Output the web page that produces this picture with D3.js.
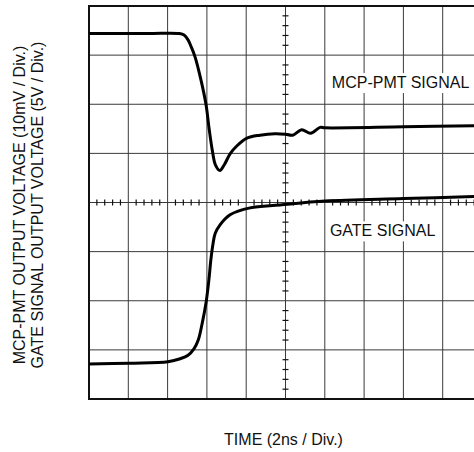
<!DOCTYPE html>
<html>
<head>
<meta charset="utf-8">
<script src="https://cdn.jsdelivr.net/npm/d3@7"></script>
<style>
  body { margin: 0; background: #fff; }
  svg { display: block; }
  text { font-family: "Liberation Sans", Arial, sans-serif; fill: #111; }
</style>
</head>
<body>
<svg id="chart" width="474" height="452"></svg>
<script>
// ---data in divisions (x: 2ns/div, y: volts/div, 0 = screen centre)---
var mcpTime  = [0, 1.5, 2.30, 2.42, 2.52, 2.60, 2.70, 2.85, 2.98, 3.06, 3.14, 3.22, 3.33, 3.45, 3.59, 3.76, 4.02, 4.35, 4.73, 5.0, 5.18, 5.41, 5.64, 5.88, 6.01, 8.0, 10]
var mcpVolt  = [3.44, 3.44, 3.44, 3.41, 3.31, 3.17, 2.96, 2.49, 1.98, 1.48, 1.05, 0.76, 0.65, 0.78, 0.99, 1.15, 1.31, 1.37, 1.40, 1.39, 1.37, 1.48, 1.41, 1.53, 1.52, 1.54, 1.565]
var gateTime = [0, 1.04, 2.01, 2.32, 2.52, 2.67, 2.78, 2.88, 2.98, 3.05, 3.10, 3.15, 3.21, 3.33, 3.59, 4.10, 4.86, 6.01, 8.0, 10]
var gateVolt = [-3.29, -3.27, -3.24, -3.18, -3.11, -2.98, -2.80, -2.46, -2.03, -1.58, -1.17, -0.87, -0.63, -0.46, -0.25, -0.11, -0.05, 0.03, 0.08, 0.125]
var xDivs = [0, 1, 2, 3, 4, 5, 6, 7, 8, 9, 10]
var yDivs = [-4, -3, -2, -1, 0, 1, 2, 3, 4]
var labels = [{text: "MCP-PMT SIGNAL", t: 6.18, v: 2.33}, {text: "GATE SIGNAL", t: 6.13, v: -0.69}]
var yTitle = ["MCP-PMT OUTPUT VOLTAGE (10mV / Div.)", "GATE SIGNAL OUTPUT VOLTAGE (5V / Div.)"]
var xTitle = "TIME (2ns / Div.)"

var svg = d3.select("#chart")
var plotL = 89, plotR = 482, plotT = 6, plotB = 399

var x = d3.scaleLinear().domain([0, 10]).range([plotL, plotR])
var y = d3.scaleLinear().domain([-4, 4]).range([plotB, plotT])

//---grid---
var grid = svg.append("g").attr("stroke", "#3a3a3a").attr("stroke-width", 1)
grid.selectAll("line.v").data(xDivs.slice(1, -1)).enter().append("line")
    .attr("x1", d => x(d)).attr("x2", d => x(d))
    .attr("y1", plotT).attr("y2", plotB)
grid.selectAll("line.h").data(yDivs.slice(1, -1)).enter().append("line")
    .attr("x1", plotL).attr("x2", plotR)
    .attr("y1", d => y(d)).attr("y2", d => y(d))

//---minor ticks on centre lines (5 per div)---
var minorX = d3.range(0, 10.001, 0.2).filter(d => Math.abs(d - Math.round(d)) > 0.01)
var minorY = d3.range(-4, 4.001, 0.2).filter(d => Math.abs(d - Math.round(d)) > 0.01)
var ticks = svg.append("g").attr("stroke", "#111").attr("stroke-width", 1.2)
ticks.selectAll("line.tx").data(minorX).enter().append("line")
    .attr("x1", d => x(d)).attr("x2", d => x(d))
    .attr("y1", y(0) - 3).attr("y2", y(0) + 3)
ticks.selectAll("line.ty").data(minorY).enter().append("line")
    .attr("x1", x(5) - 3).attr("x2", x(5) + 3)
    .attr("y1", d => y(d)).attr("y2", d => y(d))

//---frame---
svg.append("rect")
    .attr("x", plotL).attr("y", plotT)
    .attr("width", plotR - plotL).attr("height", plotB - plotT)
    .attr("fill", "none").attr("stroke", "#111").attr("stroke-width", 2)

//---traces---
var line = d3.line().x(d => x(d[0])).y(d => y(d[1])).curve(d3.curveCatmullRom.alpha(0.5))
svg.append("path").datum(d3.zip(mcpTime, mcpVolt))
    .attr("d", line).attr("fill", "none").attr("stroke", "#000").attr("stroke-width", 3)
svg.append("path").datum(d3.zip(gateTime, gateVolt))
    .attr("d", line).attr("fill", "none").attr("stroke", "#000").attr("stroke-width", 3)

//---signal labels on white patches---
labels.forEach(function(l) {
    var g = svg.append("g")
    var t = g.append("text")
        .attr("x", x(l.t)).attr("y", y(l.v))
        .attr("font-size", 16)
        .text(l.text)
    var bb = t.node().getBBox()
    g.insert("rect", "text")
        .attr("x", bb.x - 3).attr("y", bb.y - 1)
        .attr("width", bb.width + 6).attr("height", bb.height + 3)
        .attr("fill", "#fff")
})

//---axis titles---
svg.append("text")
    .attr("x", x(5) - 2).attr("y", 445)
    .attr("text-anchor", "middle").attr("font-size", 16)
    .text(xTitle)

svg.selectAll("text.ytitle").data(yTitle).enter().append("text")
    .attr("class", "ytitle")
    .attr("transform", (d, i) => "translate(" + (25 + i * 18) + "," + 205 + ") rotate(-90)")
    .attr("text-anchor", "middle").attr("font-size", 16)
    .text(d => d)
</script>
</body>
</html>
